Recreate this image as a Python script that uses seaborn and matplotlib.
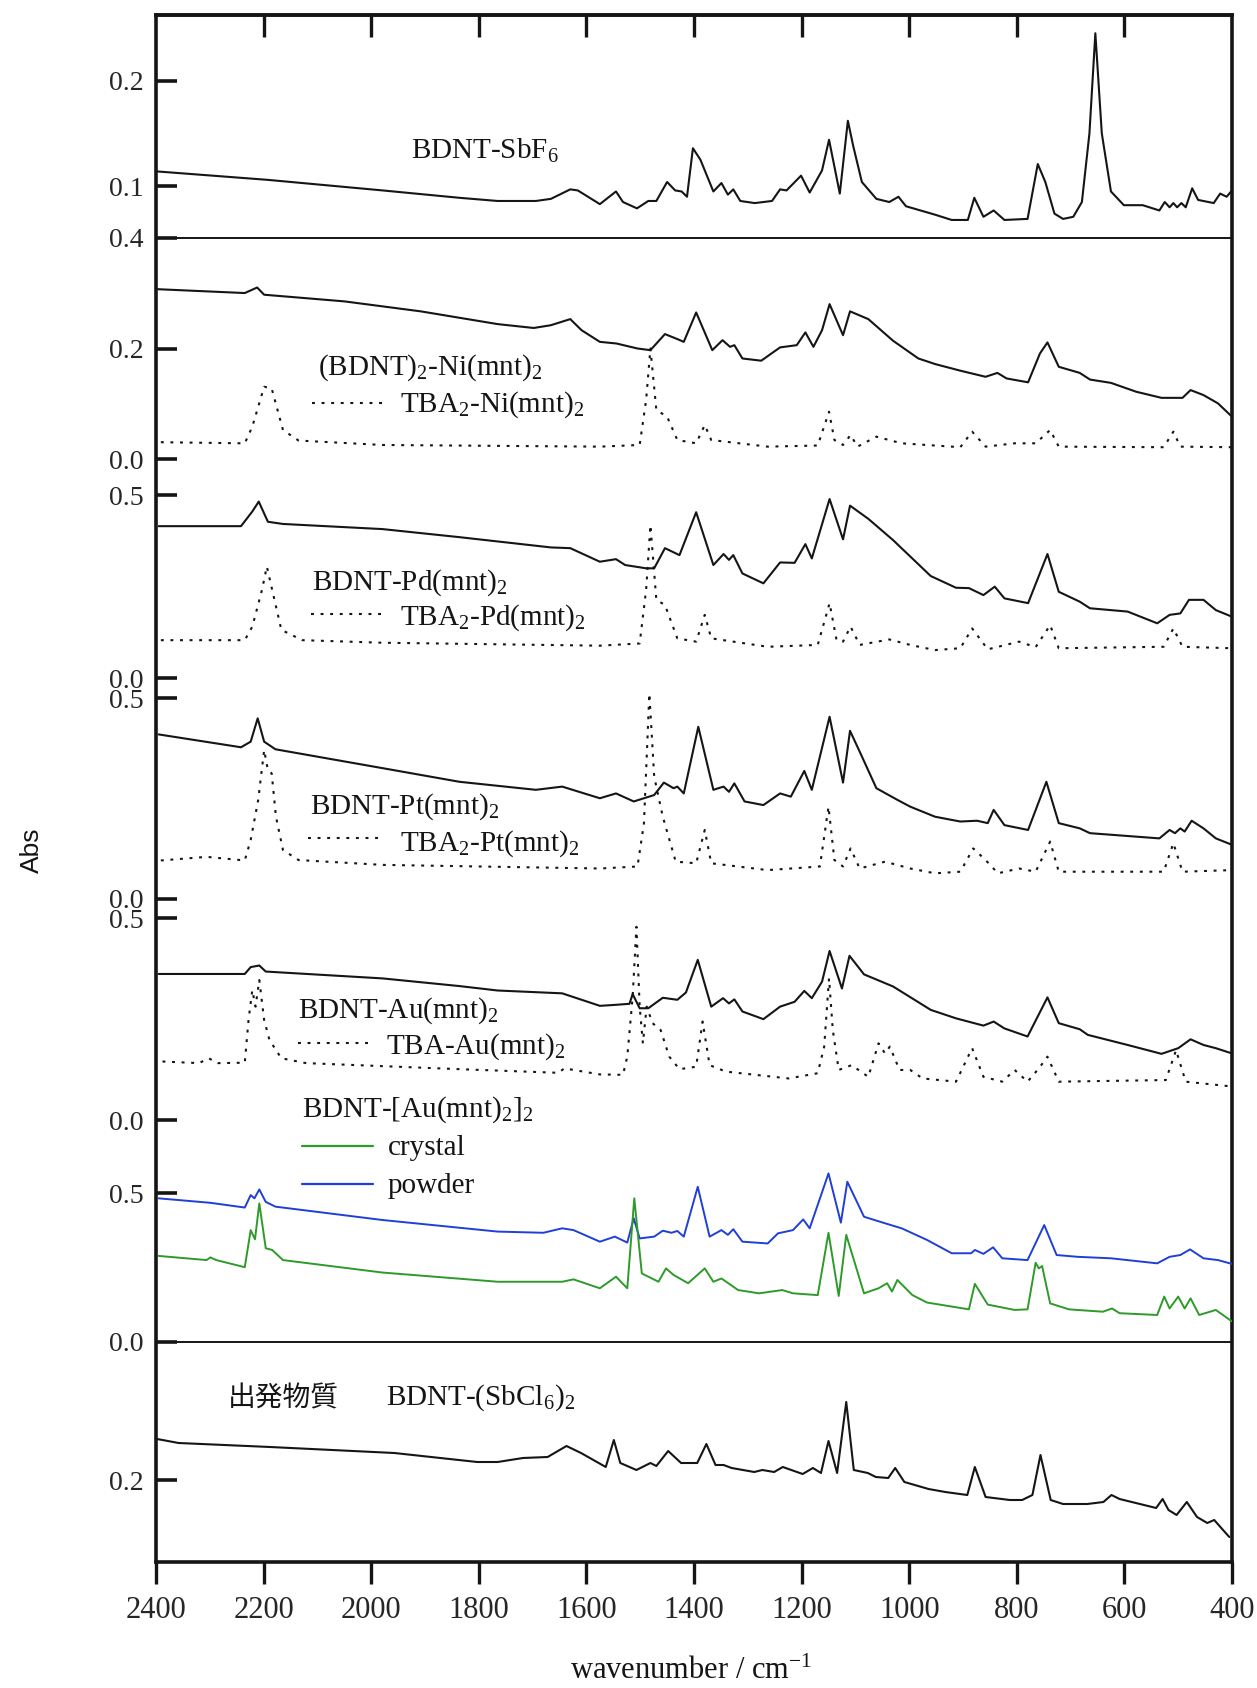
import numpy as np
import matplotlib
matplotlib.use("Agg")
import matplotlib.pyplot as plt
import seaborn as sns
from matplotlib.lines import Line2D

# スペクトル (wavenumber, Abs) -- 図から読み取った値
sbf6 = [(2398, 0.114), (2192, 0.106), (1979, 0.096), (1836, 0.089), (1765, 0.086), (1694, 0.086),
        (1666, 0.088), (1630, 0.097), (1616, 0.096), (1575, 0.083), (1545, 0.095), (1532, 0.085),
        (1506, 0.079), (1485, 0.086), (1470, 0.086), (1450, 0.104), (1435, 0.096), (1423, 0.095),
        (1413, 0.090), (1402, 0.136), (1388, 0.125), (1364, 0.095), (1349, 0.103), (1337, 0.092),
        (1327, 0.097), (1314, 0.086), (1287, 0.084), (1255, 0.086), (1240, 0.097), (1228, 0.096),
        (1201, 0.110), (1185, 0.094), (1174, 0.104), (1162, 0.115), (1149, 0.144), (1129, 0.093),
        (1114, 0.162), (1104, 0.138), (1088, 0.104), (1061, 0.088), (1037, 0.085), (1020, 0.090),
        (1006, 0.081), (952, 0.073), (921, 0.068), (891, 0.068), (879, 0.089), (862, 0.071),
        (843, 0.077), (823, 0.068), (780, 0.069), (761, 0.121), (747, 0.104), (730, 0.074),
        (714, 0.069), (695, 0.071), (679, 0.085), (665, 0.150), (654, 0.245), (642, 0.150),
        (625, 0.095), (601, 0.082), (566, 0.082), (535, 0.077), (525, 0.085), (516, 0.080),
        (509, 0.084), (502, 0.080), (494, 0.084), (486, 0.080), (474, 0.098), (463, 0.087),
        (434, 0.084), (422, 0.093), (410, 0.090), (400, 0.096)]

ni_salt = [(2398, 0.307), (2235, 0.300), (2212, 0.310), (2199, 0.297), (2050, 0.285), (1908, 0.267),
           (1765, 0.244), (1698, 0.237), (1666, 0.242), (1630, 0.253), (1609, 0.233), (1575, 0.212),
           (1544, 0.209), (1505, 0.200), (1481, 0.197), (1454, 0.226), (1431, 0.217), (1419, 0.212),
           (1396, 0.265), (1366, 0.197), (1347, 0.215), (1333, 0.203), (1325, 0.206), (1310, 0.182),
           (1275, 0.178), (1240, 0.202), (1209, 0.206), (1193, 0.229), (1178, 0.203), (1162, 0.233),
           (1148, 0.280), (1123, 0.224), (1110, 0.267), (1076, 0.253), (1030, 0.214), (983, 0.182),
           (952, 0.172), (905, 0.160), (858, 0.149), (836, 0.156), (819, 0.146), (779, 0.139),
           (757, 0.191), (743, 0.211), (722, 0.167), (683, 0.156), (664, 0.144), (625, 0.138),
           (578, 0.122), (531, 0.111), (492, 0.111), (477, 0.125), (453, 0.116), (426, 0.101),
           (400, 0.077)]

ni_tba = [(2391, 0.031), (2235, 0.029), (2221, 0.059), (2199, 0.131), (2185, 0.128), (2164, 0.053),
          (2135, 0.034), (1979, 0.026), (1575, 0.023), (1501, 0.026), (1489, 0.107), (1481, 0.200),
          (1470, 0.089), (1450, 0.077), (1431, 0.035), (1396, 0.029), (1380, 0.062), (1368, 0.035),
          (1263, 0.023), (1170, 0.025), (1149, 0.086), (1139, 0.035), (1123, 0.026), (1109, 0.044),
          (1096, 0.023), (1061, 0.041), (1014, 0.029), (905, 0.022), (883, 0.050), (858, 0.023),
          (804, 0.029), (765, 0.029), (738, 0.053), (722, 0.023), (527, 0.022), (509, 0.050),
          (496, 0.023), (400, 0.022)]

pd_salt = [(2395, 0.415), (2242, 0.415), (2221, 0.455), (2209, 0.482), (2192, 0.427), (2164, 0.421),
           (1979, 0.407), (1836, 0.385), (1666, 0.357), (1630, 0.355), (1575, 0.318), (1545, 0.325),
           (1528, 0.309), (1489, 0.300), (1474, 0.300), (1454, 0.355), (1427, 0.336), (1396, 0.453),
           (1364, 0.309), (1345, 0.339), (1335, 0.323), (1327, 0.336), (1310, 0.286), (1271, 0.259),
           (1240, 0.316), (1213, 0.315), (1193, 0.366), (1181, 0.327), (1148, 0.489), (1123, 0.379),
           (1110, 0.471), (1076, 0.435), (1030, 0.377), (960, 0.279), (913, 0.247), (889, 0.246),
           (862, 0.227), (841, 0.250), (823, 0.218), (779, 0.205), (743, 0.339), (722, 0.236),
           (683, 0.209), (664, 0.191), (594, 0.182), (539, 0.150), (516, 0.173), (496, 0.177),
           (480, 0.214), (453, 0.214), (430, 0.186), (400, 0.168)]

pd_tba = [(2391, 0.104), (2235, 0.104), (2221, 0.141), (2203, 0.241), (2194, 0.305), (2184, 0.241),
          (2167, 0.132), (2128, 0.104), (1979, 0.097), (1575, 0.089), (1501, 0.095), (1489, 0.241),
          (1481, 0.418), (1470, 0.214), (1454, 0.200), (1431, 0.109), (1396, 0.100), (1380, 0.173),
          (1368, 0.109), (1263, 0.086), (1170, 0.091), (1148, 0.205), (1135, 0.104), (1123, 0.100),
          (1109, 0.141), (1092, 0.091), (1037, 0.106), (998, 0.091), (952, 0.077), (905, 0.082),
          (883, 0.136), (854, 0.079), (796, 0.100), (765, 0.085), (738, 0.145), (722, 0.082),
          (527, 0.086), (509, 0.136), (492, 0.086), (400, 0.082)]

pt_salt = [(2395, 0.410), (2242, 0.378), (2224, 0.392), (2211, 0.450), (2199, 0.392), (2178, 0.373),
           (1979, 0.326), (1836, 0.292), (1694, 0.272), (1645, 0.280), (1575, 0.251), (1545, 0.263),
           (1512, 0.243), (1474, 0.259), (1456, 0.290), (1438, 0.276), (1431, 0.280), (1419, 0.263),
           (1392, 0.429), (1364, 0.272), (1345, 0.280), (1335, 0.267), (1325, 0.288), (1306, 0.243),
           (1271, 0.234), (1240, 0.263), (1220, 0.255), (1195, 0.319), (1181, 0.272), (1148, 0.454),
           (1123, 0.290), (1110, 0.419), (1092, 0.367), (1061, 0.276), (1022, 0.247), (998, 0.230),
           (952, 0.205), (905, 0.193), (874, 0.195), (854, 0.189), (843, 0.222), (823, 0.184),
           (779, 0.172), (745, 0.292), (722, 0.189), (683, 0.176), (664, 0.164), (535, 0.151),
           (516, 0.172), (506, 0.164), (496, 0.176), (488, 0.168), (475, 0.195), (453, 0.176),
           (430, 0.151), (400, 0.135)]

pt_tba = [(2391, 0.096), (2306, 0.105), (2235, 0.096), (2224, 0.147), (2210, 0.247), (2199, 0.371),
          (2192, 0.321), (2185, 0.313), (2177, 0.205), (2164, 0.122), (2135, 0.097), (1979, 0.085),
          (1575, 0.076), (1505, 0.081), (1493, 0.189), (1483, 0.512), (1474, 0.305), (1458, 0.205),
          (1434, 0.093), (1396, 0.089), (1380, 0.172), (1368, 0.089), (1263, 0.072), (1166, 0.081),
          (1150, 0.230), (1139, 0.097), (1123, 0.081), (1109, 0.126), (1092, 0.076), (1045, 0.093),
          (998, 0.076), (952, 0.064), (905, 0.068), (881, 0.126), (858, 0.097), (835, 0.064),
          (796, 0.076), (765, 0.068), (738, 0.143), (722, 0.068), (527, 0.068), (509, 0.139),
          (492, 0.068), (400, 0.072)]

au_salt = [(2395, 0.362), (2235, 0.362), (2224, 0.379), (2208, 0.383), (2196, 0.368), (1979, 0.351),
           (1836, 0.332), (1765, 0.321), (1645, 0.314), (1575, 0.283), (1551, 0.285), (1520, 0.288),
           (1514, 0.312), (1501, 0.277), (1485, 0.277), (1458, 0.303), (1431, 0.298), (1415, 0.316),
           (1393, 0.397), (1368, 0.281), (1346, 0.302), (1335, 0.289), (1325, 0.299), (1310, 0.269),
           (1271, 0.250), (1240, 0.281), (1213, 0.293), (1195, 0.320), (1181, 0.302), (1162, 0.343),
           (1148, 0.419), (1125, 0.326), (1111, 0.407), (1084, 0.361), (1030, 0.331), (960, 0.273),
           (913, 0.252), (862, 0.234), (843, 0.244), (823, 0.227), (780, 0.207), (743, 0.304),
           (722, 0.240), (683, 0.225), (668, 0.211), (594, 0.186), (531, 0.164), (500, 0.178),
           (477, 0.200), (453, 0.186), (430, 0.178), (400, 0.165)]

au_tba = [(2388, 0.145), (2320, 0.141), (2302, 0.153), (2285, 0.141), (2235, 0.142), (2228, 0.248),
          (2221, 0.322), (2215, 0.281), (2208, 0.347), (2199, 0.248), (2189, 0.198), (2167, 0.153),
          (2121, 0.141), (1836, 0.126), (1652, 0.117), (1641, 0.128), (1575, 0.113), (1532, 0.112),
          (1524, 0.157), (1514, 0.306), (1507, 0.479), (1501, 0.281), (1495, 0.190), (1488, 0.281),
          (1477, 0.240), (1462, 0.223), (1446, 0.157), (1427, 0.126), (1396, 0.132), (1384, 0.244),
          (1371, 0.136), (1341, 0.120), (1224, 0.103), (1170, 0.116), (1158, 0.182), (1149, 0.351),
          (1142, 0.223), (1131, 0.124), (1107, 0.136), (1076, 0.107), (1057, 0.190), (1045, 0.165),
          (1036, 0.182), (1018, 0.124), (998, 0.124), (975, 0.103), (913, 0.095), (883, 0.178),
          (862, 0.107), (827, 0.095), (804, 0.124), (780, 0.095), (759, 0.128), (743, 0.157),
          (722, 0.095), (523, 0.099), (504, 0.173), (486, 0.095), (400, 0.083)]

powder = [(2395, 0.483), (2299, 0.468), (2235, 0.452), (2224, 0.494), (2217, 0.483), (2208, 0.513),
          (2196, 0.471), (2178, 0.455), (1979, 0.410), (1765, 0.371), (1680, 0.367), (1645, 0.382),
          (1624, 0.376), (1575, 0.337), (1547, 0.354), (1524, 0.334), (1512, 0.416), (1501, 0.348),
          (1474, 0.354), (1458, 0.374), (1442, 0.367), (1431, 0.373), (1419, 0.354), (1393, 0.522),
          (1371, 0.354), (1349, 0.376), (1337, 0.360), (1327, 0.379), (1310, 0.337), (1263, 0.331),
          (1244, 0.365), (1216, 0.376), (1197, 0.412), (1185, 0.382), (1150, 0.567), (1127, 0.401),
          (1115, 0.539), (1084, 0.421), (1045, 0.399), (1014, 0.382), (967, 0.343), (921, 0.298),
          (885, 0.298), (878, 0.309), (862, 0.296), (844, 0.318), (827, 0.281), (780, 0.275),
          (749, 0.393), (726, 0.292), (687, 0.286), (625, 0.281), (539, 0.264), (516, 0.286),
          (496, 0.292), (478, 0.311), (453, 0.281), (426, 0.275), (400, 0.262)]

crystal = [(2395, 0.289), (2306, 0.275), (2299, 0.284), (2288, 0.275), (2235, 0.251), (2224, 0.376),
           (2216, 0.345), (2208, 0.466), (2196, 0.315), (2184, 0.309), (2164, 0.275), (1979, 0.233),
           (1765, 0.202), (1645, 0.202), (1624, 0.210), (1575, 0.180), (1545, 0.219), (1524, 0.180),
           (1511, 0.483), (1497, 0.230), (1466, 0.202), (1452, 0.247), (1438, 0.225), (1411, 0.197),
           (1380, 0.247), (1364, 0.202), (1349, 0.213), (1318, 0.174), (1279, 0.163), (1236, 0.174),
           (1216, 0.163), (1170, 0.157), (1150, 0.367), (1131, 0.154), (1117, 0.360), (1084, 0.163),
           (1057, 0.180), (1041, 0.197), (1032, 0.169), (1022, 0.208), (994, 0.157), (967, 0.132),
           (889, 0.109), (878, 0.195), (854, 0.125), (804, 0.107), (780, 0.109), (765, 0.266),
           (759, 0.247), (753, 0.255), (738, 0.129), (703, 0.109), (640, 0.101), (623, 0.112),
           (609, 0.096), (539, 0.090), (526, 0.152), (516, 0.112), (500, 0.152), (488, 0.112),
           (477, 0.146), (461, 0.090), (430, 0.107), (400, 0.068)]

sbcl6 = [(2398, 0.241), (2358, 0.237), (2188, 0.233), (1957, 0.227), (1803, 0.218), (1765, 0.218),
         (1718, 0.222), (1672, 0.223), (1637, 0.234), (1610, 0.227), (1564, 0.213), (1549, 0.240),
         (1537, 0.217), (1507, 0.210), (1481, 0.217), (1470, 0.214), (1448, 0.229), (1424, 0.217),
         (1394, 0.217), (1377, 0.236), (1360, 0.215), (1345, 0.215), (1330, 0.212), (1288, 0.208),
         (1273, 0.210), (1251, 0.208), (1235, 0.213), (1198, 0.206), (1179, 0.212), (1164, 0.207),
         (1150, 0.239), (1134, 0.207), (1117, 0.278), (1103, 0.210), (1077, 0.207), (1062, 0.203),
         (1039, 0.202), (1026, 0.212), (1009, 0.198), (964, 0.191), (933, 0.188), (892, 0.185),
         (878, 0.213), (858, 0.183), (813, 0.180), (790, 0.180), (771, 0.185), (756, 0.225),
         (737, 0.180), (714, 0.176), (669, 0.176), (639, 0.178), (624, 0.185), (609, 0.181),
         (556, 0.174), (541, 0.172), (529, 0.181), (518, 0.170), (503, 0.165), (484, 0.178),
         (465, 0.163), (446, 0.157), (433, 0.160), (420, 0.152), (405, 0.143)]

x_ticks = [2400, 2200, 2000, 1800, 1600, 1400, 1200, 1000, 800, 600, 400]

sns.set_theme(style="ticks")
plt.rcParams['font.family'] = ['Liberation Serif', 'Noto Sans CJK JP', 'DejaVu Sans']
plt.rcParams['mathtext.fontset'] = 'custom'
plt.rcParams['mathtext.rm'] = 'Liberation Serif'
plt.rcParams['mathtext.it'] = 'Liberation Serif:italic'
plt.rcParams['mathtext.bf'] = 'Liberation Serif:bold'

W, H = 1257, 1688
L, R, T, B = 156, 1232, 15, 1561.5
fig = plt.figure(figsize=(W / 100, H / 100), dpi=100)
fig.patch.set_facecolor('white')

BLACK = '#151515'
DOT = (0, (1.4, 3.2))


def px_axes(top, bottom):
    return fig.add_axes([L / W, 1 - bottom / H, (R - L) / W, (bottom - top) / H])


# 外枠
frame = px_axes(T, B)
frame.set_xlim(2400, 400)
frame.set_ylim(0, 1)
frame.set_yticks([])
for s in frame.spines.values():
    s.set_linewidth(2.6)
    s.set_color(BLACK)
frame.set_xticks(x_ticks)
frame.tick_params(axis='x', direction='out', length=16, width=2.4, labelsize=22, pad=9, color=BLACK)
top = frame.secondary_xaxis('top')
top.set_xticks(x_ticks[1:-1])
top.tick_params(axis='x', direction='in', length=16, width=2.4, labeltop=False, color=BLACK)
top.spines['top'].set_linewidth(2.6)

# panels: (top px, bottom px, (v1, px1), (v2, px2), ticks)
panels = [
    (15, 237, (0.1, 186.2), (0.2, 80.7), [0.1, 0.2]),
    (237, 470, (0.0, 459.4), (0.2, 348.5), [0.0, 0.2, 0.4]),
    (470, 690, (0.0, 678.3), (0.5, 495.0), [0.0, 0.5]),
    (640, 905, (0.0, 899.0), (0.5, 698.3), [0.0, 0.5]),
    (870, 1125, (0.0, 1120.0), (0.5, 918.3), [0.0, 0.5]),
    (1125, 1341.7, (0.0, 1341.7), (0.5, 1193.3), [0.0, 0.5]),
    (1341.7, B, (0.2, 1480.0), (0.3, 1380.0), [0.2]),
]

axes = []
for ptop, pbot, (v1, p1), (v2, p2), ticks in panels:
    ax = px_axes(ptop, pbot)
    slope = (v2 - v1) / (p2 - p1)
    ax.set_ylim(v1 + (pbot - p1) * slope, v1 + (ptop - p1) * slope)
    ax.set_xlim(2400, 400)
    ax.patch.set_alpha(0)
    for s in ax.spines.values():
        s.set_visible(False)
    ax.set_xticks([])
    ax.set_yticks(ticks, [f"{t:.1f}" for t in ticks])
    ax.tick_params(axis='y', direction='in', length=15, width=2.6, labelsize=20, pad=9, color=BLACK)
    axes.append(ax)


def draw(ax, pairs, color=BLACK, lw=1.5, ls='-'):
    arr = np.array(pairs)
    sns.lineplot(x=arr[:, 0], y=arr[:, 1], ax=ax, color=color, linewidth=lw,
                 linestyle=ls, sort=False, estimator=None)
    ax.set_xlabel('')
    ax.set_ylabel('')


GREEN = '#2e9a2a'
BLUE = '#1f3fd6'

draw(axes[0], sbf6)
draw(axes[1], ni_salt)
draw(axes[1], ni_tba, lw=1.5, ls=DOT)
draw(axes[2], pd_salt)
draw(axes[2], pd_tba, lw=1.5, ls=DOT)
draw(axes[3], pt_salt)
draw(axes[3], pt_tba, lw=1.5, ls=DOT)
draw(axes[4], au_salt)
draw(axes[4], au_tba, lw=1.5, ls=DOT)
draw(axes[5], powder, color=BLUE, lw=1.4)
draw(axes[5], crystal, color=GREEN, lw=1.4)
draw(axes[6], sbcl6)

axes[1].axhline(0.4, color=BLACK, lw=1.4, clip_on=False)
axes[5].axhline(0.0, color=BLACK, lw=1.4, clip_on=False)


def label(x, y, s, size=21, **kw):
    fig.text(x / W, 1 - y / H, s, fontsize=size, va='baseline', ha='left', color=BLACK, **kw)


def key(x0, x1, y, color=BLACK, ls=DOT, lw=1.5):
    fig.add_artist(Line2D([x0 / W, x1 / W], [1 - y / H, 1 - y / H], transform=fig.transFigure,
                          color=color, linestyle=ls, linewidth=lw))


label(411, 159, 'BDNT-SbF$_6$')
label(318, 375, '(BDNT)$_2$-Ni(mnt)$_2$')
key(312, 383, 403)
label(400, 412, 'TBA$_2$-Ni(mnt)$_2$')
label(312, 590, 'BDNT-Pd(mnt)$_2$')
key(311, 383, 614)
label(400, 625, 'TBA$_2$-Pd(mnt)$_2$')
label(310, 814, 'BDNT-Pt(mnt)$_2$')
key(308, 383, 838)
label(400, 851, 'TBA$_2$-Pt(mnt)$_2$')
label(298, 1018, 'BDNT-Au(mnt)$_2$')
key(298, 369, 1043)
label(386, 1054, 'TBA-Au(mnt)$_2$')
label(302, 1117, 'BDNT-[Au(mnt)$_2$]$_2$')
key(302, 373, 1146, color=GREEN, ls='-', lw=1.6)
label(388, 1155, 'crystal')
key(302, 373, 1184, color=BLUE, ls='-', lw=1.6)
label(388, 1193, 'powder')
label(228, 1406, '出発物質', size=20, family=['Noto Sans CJK JP'])
label(386, 1405, 'BDNT-(SbCl$_6$)$_2$')

fig.text(691 / W, 1 - 1671 / H, 'wavenumber / cm$^{-1}$', fontsize=22, ha='center', va='center',
         color=BLACK)
fig.text(32 / W, 1 - 850 / H, 'Abs', rotation=90, fontsize=19, ha='center', va='center',
         family=['Liberation Sans'], color=BLACK)

fig.savefig('out.png', dpi=100, facecolor='white')
